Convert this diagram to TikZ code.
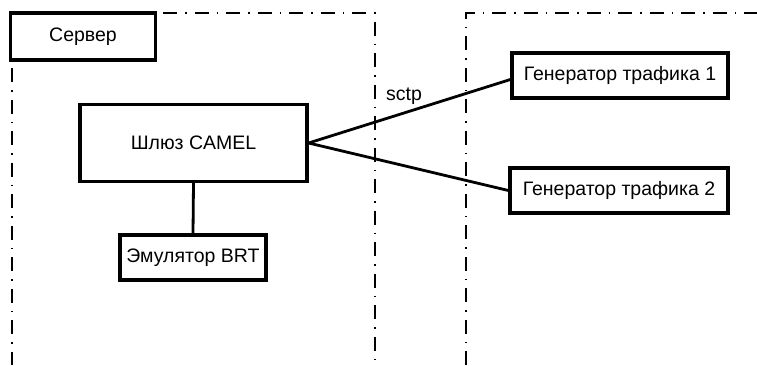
\documentclass[tikz,border=0pt]{standalone}
\usepackage{fontspec}
\setmainfont{Liberation Sans}
\begin{document}
\begin{tikzpicture}[x=1pt, y=-1pt,
    block/.style={rectangle, draw, line width=3.2pt, inner sep=0pt, font=\fontsize{19.5}{22}\selectfont},
    zone/.style={line width=1.6pt, dash pattern=on 14pt off 8pt on 1.5pt off 8pt},
    link/.style={line width=2.8pt}]
        \useasboundingbox (0,0) rectangle (757,365);
        % Nodes
        \node (server) [block, minimum width=145pt, minimum height=47pt] at (83, 36.5) {Сервер};
        \node (camel) [block, minimum width=227pt, minimum height=77pt] at (193.5, 143) {Шлюз CAMEL};
        \node (brt) [block, minimum width=146pt, minimum height=45pt] at (193, 257.5) {Эмулятор BRT};
        \node (gen1) [block, minimum width=216pt, minimum height=45pt] at (620, 75.5) {Генератор трафика 1};
        \node (gen2) [block, minimum width=218pt, minimum height=45pt] at (619, 190.5) {Генератор трафика 2};
        \node (sctp) [font=\fontsize{19.5}{22}\selectfont] at (404, 96) {sctp};
        
        % Zones
        \coordinate (sa) at (12, 68);
        \coordinate (sb) at (12, 365);
        \coordinate (sc) at (163, 13);
        \coordinate (sd) at (375, 13);
        \coordinate (se) at (375, 365);
        \coordinate (ga) at (466, 365);
        \coordinate (gb) at (466, 13);
        \coordinate (gc) at (757, 13);
        \draw [zone] (sa) -- (sb);
        \draw [zone] (sc) -- (sd) -- (se);
        \draw [zone] (ga) -- (gb) -- (gc);
        
        % Edges
        \draw [link] (camel.south) -- (brt.north);
        \draw [link] (camel.east) -- ([yshift=-4pt]gen1.west);
        \draw [link] (camel.east) -- (gen2.west);
    
    \end{tikzpicture}
\end{document}
